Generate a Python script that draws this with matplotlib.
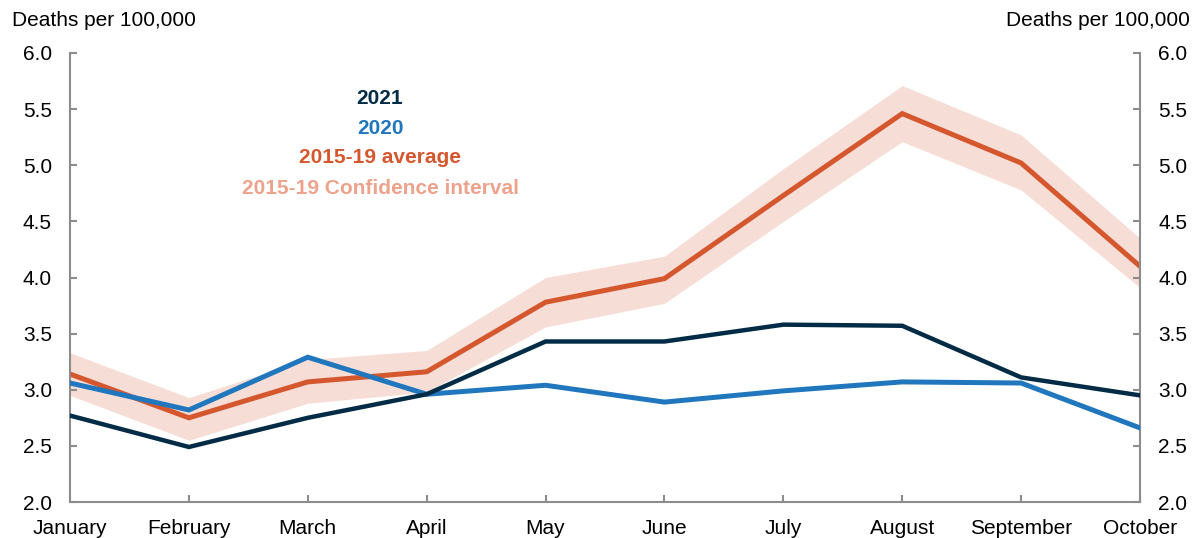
import matplotlib
matplotlib.use("Agg")
import matplotlib.pyplot as plt

months = ["January", "February", "March", "April", "May", "June",
          "July", "August", "September", "October"]
y2021 = [2.77, 2.49, 2.75, 2.96, 3.43, 3.43, 3.58, 3.57, 3.11, 2.95]
y2020 = [3.06, 2.82, 3.29, 2.96, 3.04, 2.89, 2.99, 3.07, 3.06, 2.66]
avg = [3.14, 2.75, 3.07, 3.16, 3.78, 3.99, 4.73, 5.46, 5.02, 4.10]
ci_upper = [3.33, 2.93, 3.27, 3.35, 4.00, 4.19, 4.97, 5.71, 5.27, 4.35]
ci_lower = [2.95, 2.55, 2.88, 2.98, 3.56, 3.77, 4.50, 5.21, 4.78, 3.91]
yticks = [2.0, 2.5, 3.0, 3.5, 4.0, 4.5, 5.0, 5.5, 6.0]

C_NAVY = "#022B46"
C_BLUE = "#2177BE"
C_ORANGE = "#D4572E"
C_FILL = "#F6DDD6"
C_CI_TXT = "#EDA28C"
C_SPINE = "#8C8C8C"

plt.rcParams["font.family"] = ["Liberation Sans", "DejaVu Sans"]
FS = 15

fig = plt.figure(figsize=(11.94, 5.38), dpi=100)
ax = fig.add_axes([70/1194, 36/538, (1140-70)/1194, (502-53)/538])

x = list(range(len(months)))
ax.fill_between(x, ci_lower, ci_upper, color=C_FILL, linewidth=0, zorder=1)
ax.plot(x, avg, color=C_ORANGE, linewidth=3.6, zorder=2, solid_joinstyle="miter")
ax.plot(x, y2020, color=C_BLUE, linewidth=3.6, zorder=3, solid_joinstyle="miter")
ax.plot(x, y2021, color=C_NAVY, linewidth=3.2, zorder=4, solid_joinstyle="miter")

ax.set_xlim(0, len(months) - 1)
ax.set_ylim(2.0, 6.0)
ax.set_xticks(x)
ax.set_xticklabels(months)
ax.set_yticks(yticks)
ax.set_yticklabels([f"{v:.1f}" for v in yticks])

for s in ["left", "right", "bottom"]:
    ax.spines[s].set_color(C_SPINE)
    ax.spines[s].set_linewidth(1.5)
ax.spines["top"].set_visible(False)

ax.tick_params(axis="y", direction="in", length=5, width=1.5, color=C_SPINE,
               left=True, right=True, labelleft=True, labelright=True,
               labelsize=FS, pad=13)
ax.tick_params(axis="x", direction="in", length=5, width=1.5, color=C_SPINE,
               labelsize=FS, pad=12)

fig.text(12/1194, 1 - 20/538, "Deaths per 100,000", fontsize=FS,
         ha="left", va="center")
fig.text(1190/1194, 1 - 20/538, "Deaths per 100,000", fontsize=FS,
         ha="right", va="center")

legend_items = [("2021", C_NAVY), ("2020", C_BLUE),
                ("2015-19 average", C_ORANGE),
                ("2015-19 Confidence interval", C_CI_TXT)]
for i, (lab, col) in enumerate(legend_items):
    fig.text(380/1194, 1 - (98 + 30 * i)/538, lab, color=col, fontsize=FS,
             fontweight="bold", ha="center", va="center")

fig.savefig("out.png", dpi=100)
